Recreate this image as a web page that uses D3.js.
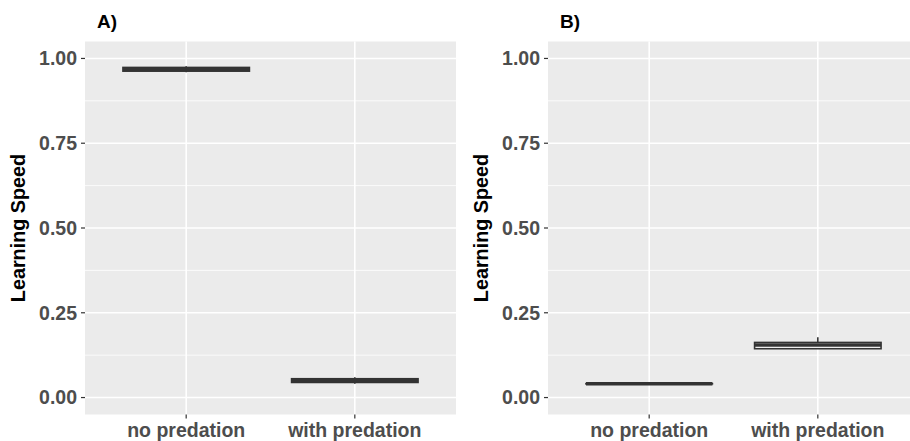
<!DOCTYPE html>
<html lang="en">

<head>
    <meta charset="UTF-8">
    <title>Learning Speed boxplots</title>
    <script src="https://d3js.org/d3.v7.min.js"></script>
    <style>
        body {
            margin: 0;
            background-color: white;
        }

        svg {
            display: block;
        }

        .tick-label {
            font-family: 'Liberation Sans', Arial, sans-serif;
            font-weight: bold;
            font-size: 19.5px;
            fill: #4d4d4d;
        }

        .axis-title, .panel-title {
            font-family: 'Liberation Sans', Arial, sans-serif;
            font-weight: bold;
            fill: black;
        }
    </style>
</head>

<body>
    <svg width="910" height="441"></svg>

    <script>
        const categories = ['no predation', 'with predation'];
        const panelTitles = ['A)', 'B)'];
        const yTicks = [0, 0.25, 0.5, 0.75, 1];
        const yMinorTicks = [0.125, 0.375, 0.625, 0.875];
        const yLabel = 'Learning Speed';

        // box stats per category: [lower whisker, Q1, median, Q3, upper whisker]
        const statsA = [
            [0.959, 0.9625, 0.968, 0.9735, 0.977],
            [0.041, 0.0445, 0.050, 0.0555, 0.060]
        ];
        const statsB = [
            [0.0405, 0.0405, 0.0407, 0.0409, 0.0409],
            [0.144, 0.144, 0.155, 0.1625, 0.178]
        ];

        const svg = d3.select('svg');
        const panelTop = 41.5, panelBottom = 414.5, panelW = 371;
        const panels = [
            { left: 85, title: panelTitles[0], stats: statsA },
            { left: 548, title: panelTitles[1], stats: statsB }
        ];

        const y = d3.scaleLinear().domain([-0.05, 1.05]).range([panelBottom, panelTop]);

        panels.forEach(p => {
            const g = svg.append('g');
            // discrete axis with ggplot-like 0.6 expansion on each side
            const x = d3.scaleLinear().domain([0.4, 2.6]).range([p.left, p.left + panelW]);
            const unit = x(2) - x(1);

            g.append('rect')
                .attr('x', p.left).attr('y', panelTop)
                .attr('width', panelW).attr('height', panelBottom - panelTop)
                .attr('fill', '#ebebeb');

            g.selectAll('.minor').data(yMinorTicks).enter().append('line')
                .attr('x1', p.left).attr('x2', p.left + panelW)
                .attr('y1', d => y(d)).attr('y2', d => y(d))
                .attr('stroke', 'white').attr('stroke-width', 0.8);

            g.selectAll('.major').data(yTicks).enter().append('line')
                .attr('x1', p.left).attr('x2', p.left + panelW)
                .attr('y1', d => y(d)).attr('y2', d => y(d))
                .attr('stroke', 'white').attr('stroke-width', 1.6);

            g.selectAll('.xgrid').data(categories).enter().append('line')
                .attr('x1', (d, i) => x(i + 1)).attr('x2', (d, i) => x(i + 1))
                .attr('y1', panelTop).attr('y2', panelBottom)
                .attr('stroke', 'white').attr('stroke-width', 1.6);

            // boxes
            p.stats.forEach((s, i) => {
                const cx = x(i + 1), hw = unit * 0.375;
                g.append('line')
                    .attr('x1', cx).attr('x2', cx)
                    .attr('y1', y(s[4])).attr('y2', y(s[0]))
                    .attr('stroke', '#333').attr('stroke-width', 1.6);
                g.append('rect')
                    .attr('x', cx - hw).attr('width', hw * 2)
                    .attr('y', y(s[3])).attr('height', Math.max(0, y(s[1]) - y(s[3])))
                    .attr('fill', 'white').attr('stroke', '#333').attr('stroke-width', 1.6);
                g.append('line')
                    .attr('x1', cx - hw).attr('x2', cx + hw)
                    .attr('y1', y(s[2])).attr('y2', y(s[2]))
                    .attr('stroke', '#333').attr('stroke-width', 3.5);
            });

            // y ticks
            g.selectAll('.ytick').data(yTicks).enter().append('line')
                .attr('x1', p.left - 4).attr('x2', p.left)
                .attr('y1', d => y(d)).attr('y2', d => y(d))
                .attr('stroke', '#333').attr('stroke-width', 1.2);
            g.selectAll('.ylab').data(yTicks).enter().append('text')
                .attr('class', 'tick-label')
                .attr('x', p.left - 8).attr('y', d => y(d))
                .attr('dy', '0.35em').attr('text-anchor', 'end')
                .text(d => d3.format('.2f')(d));

            // x ticks
            g.selectAll('.xtick').data(categories).enter().append('line')
                .attr('x1', (d, i) => x(i + 1)).attr('x2', (d, i) => x(i + 1))
                .attr('y1', panelBottom).attr('y2', panelBottom + 4)
                .attr('stroke', '#333').attr('stroke-width', 1.2);
            g.selectAll('.xlab').data(categories).enter().append('text')
                .attr('class', 'tick-label')
                .attr('x', (d, i) => x(i + 1)).attr('y', panelBottom + 22)
                .attr('text-anchor', 'middle')
                .text(d => d);

            g.append('text')
                .attr('class', 'axis-title')
                .attr('transform', `translate(${p.left - 60.5},${(panelTop + panelBottom) / 2}) rotate(-90)`)
                .attr('text-anchor', 'middle')
                .style('font-size', '19.8px')
                .text(yLabel);

            g.append('text')
                .attr('class', 'panel-title')
                .attr('x', p.left + 12).attr('y', 28)
                .style('font-size', '19px')
                .text(p.title);
        });
    </script>
</body>

</html>
